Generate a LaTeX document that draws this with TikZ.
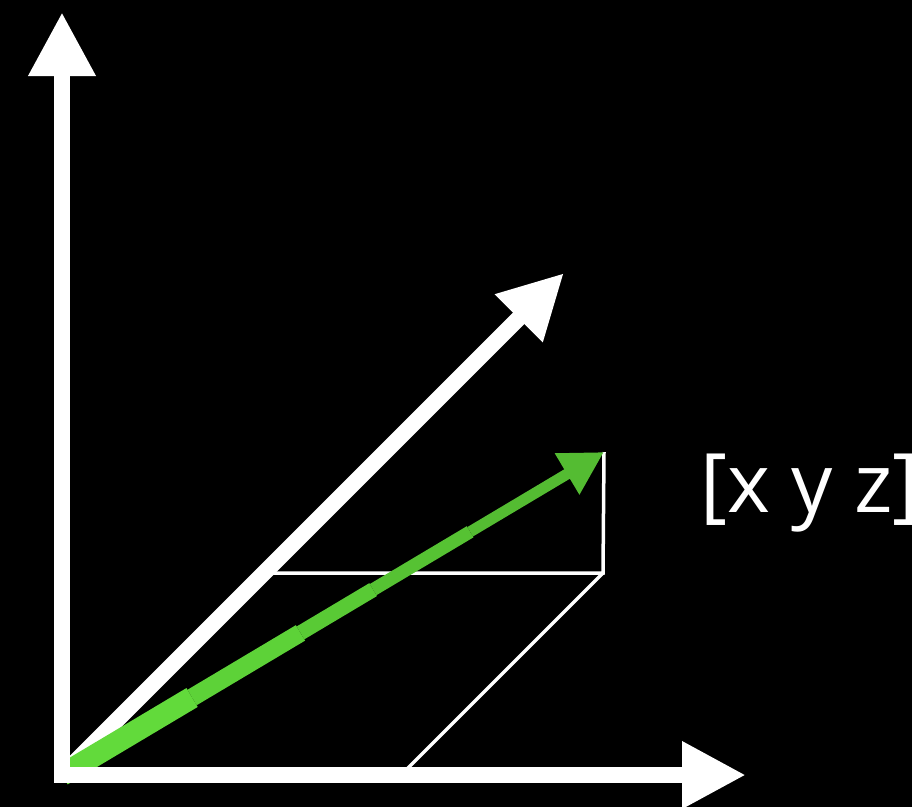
\documentclass[tikz,border=0pt]{standalone}
\usepackage{fontspec}
\newfontfamily\vecfont{Open Sans}
\usetikzlibrary{arrows.meta,calc}

\begin{document}
\begin{tikzpicture}[
x=1pt, y=-1pt,
axisline/.style={white, line width=16pt, line join=miter},
axistip/.style={-{Triangle[length=64pt, width=63pt]}},
guideline/.style={white, line width=3.5pt},
vecpart/.style={line width=#1, line cap=butt},
vectip/.style={-{Triangle[length=43pt, width=45pt]}},
vectext/.style={text=white, font=\vecfont\fontsize{82}{96}\selectfont, anchor=base west, inner sep=0pt}
]
\fill[black] (0,0) rectangle (912,807);
\useasboundingbox (0,0) rectangle (912,807);

\definecolor{vecA}{HTML}{62DA3B}
\definecolor{vecB}{HTML}{5DD238}
\definecolor{vecC}{HTML}{59CA35}
\definecolor{vecD}{HTML}{56C233}
\definecolor{vecE}{HTML}{54BC32}

% axes and corner points
\coordinate (O) at (62,775);
\coordinate (ytip) at (62,12);
\coordinate (xtip) at (746,775);
\coordinate (ztip) at (564,273);
\coordinate (zfoot) at (264,573);
\coordinate (xfoot) at (401,775);
\coordinate (P) at (603,573);
\coordinate (Q) at (604,452);

% depth axis
\draw[axisline, axistip] (O) -- (ztip);

% guide lines
\draw[guideline] (zfoot) -- (P) -- (Q);
\draw[guideline] (P) -- (xfoot);

% tapered vector
\coordinate (g1) at ($(O)!0.24!(Q)$);
\coordinate (g2) at ($(O)!0.44!(Q)$);
\coordinate (g3) at ($(O)!0.574!(Q)$);
\coordinate (g4) at ($(O)!0.753!(Q)$);
\draw[vecA, vecpart=22pt] (O) -- (g1);
\draw[vecB, vecpart=18pt] (g1) -- (g2);
\draw[vecC, vecpart=15pt] (g2) -- (g3);
\draw[vecD, vecpart=13pt] (g3) -- (g4);
\draw[vecE, vecpart=11pt, vectip] (g4) -- (Q);

% vertical and horizontal axes
\draw[axisline, {Triangle[length=64pt, width=63pt]}-{Triangle[length=64pt, width=63pt]}] (ytip) |- (xtip);

\node[vectext] (xyz) at (700,512) {[x y z]};
\end{tikzpicture}
\end{document}
